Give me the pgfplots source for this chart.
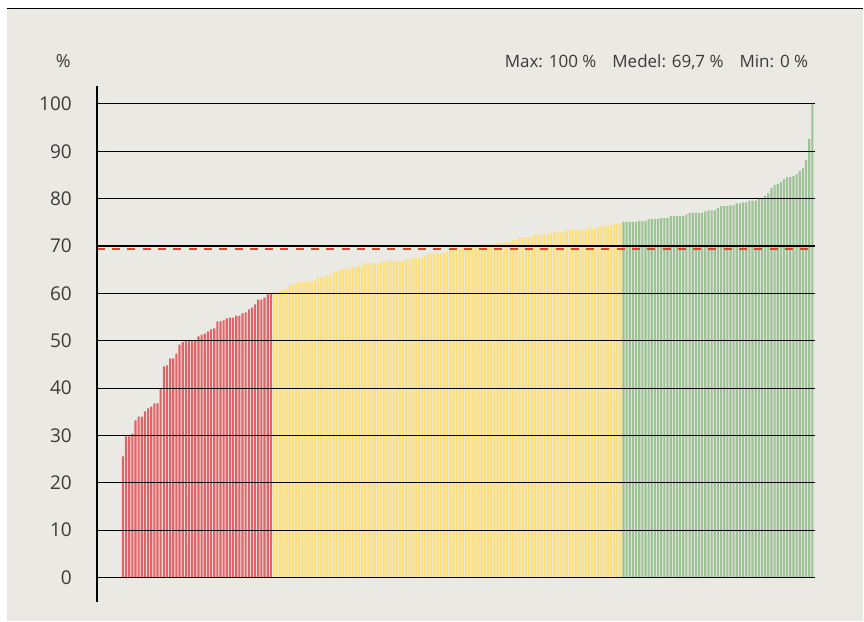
\documentclass[border=0pt]{standalone}
\usepackage{pgfplots}
\pgfplotsset{compat=1.18}
\usepackage{pgfplotstable}
\usepackage{fontspec}
\setmainfont{Open Sans}

% Colours
\definecolor{colorBg}{HTML}{EBE9E4}
\definecolor{colorRed}{HTML}{DF6367}
\definecolor{colorYellow}{HTML}{FDE07A}
\definecolor{colorGreen}{HTML}{9DC295}
\definecolor{colorMean}{HTML}{E8441F}
\definecolor{colorText}{HTML}{3A3A3A}

% Data: one value per unit, sorted ascending (first seven are 0 %)
\pgfplotstableread[header=false,row sep=\\]{
0\\ 0\\ 0\\ 0\\ 0\\ 0\\ 0\\
25.6\\ 29.8\\ 29.8\\ 30.4\\ 33.2\\ 34.0\\ 34.0\\ 35.1\\ 35.7\\ 36.1\\
36.8\\ 36.8\\ 40.0\\ 44.6\\ 44.8\\ 46.3\\ 46.3\\ 47.3\\ 49.2\\ 49.7\\
50.0\\ 50.0\\ 50.0\\ 50.0\\ 50.9\\ 51.3\\ 51.5\\ 52.0\\ 52.4\\ 52.6\\
54.1\\ 54.1\\ 54.3\\ 54.7\\ 54.9\\ 54.9\\ 55.3\\ 55.3\\ 55.8\\ 56.0\\
56.6\\ 57.0\\ 57.7\\ 58.7\\ 58.7\\ 59.1\\ 59.8\\ 59.9\\
}\redData

\pgfplotstableread[header=false,row sep=\\]{
60.0\\ 60.0\\ 60.6\\ 61.0\\ 61.0\\ 61.8\\ 61.8\\ 62.3\\ 62.3\\ 62.3\\
62.5\\ 62.5\\ 62.5\\ 62.9\\ 63.3\\ 63.5\\ 63.5\\ 63.9\\ 63.9\\ 64.6\\
64.6\\ 65.0\\ 65.0\\ 65.2\\ 65.2\\ 65.6\\ 65.6\\ 65.8\\ 65.8\\ 66.3\\
66.3\\ 66.3\\ 66.3\\ 66.3\\ 66.7\\ 66.7\\ 66.9\\ 66.9\\ 66.9\\ 66.9\\
66.9\\ 66.9\\ 67.3\\ 67.3\\ 67.5\\ 67.5\\ 67.5\\ 67.5\\ 68.0\\ 68.4\\
68.4\\ 68.4\\ 68.4\\ 68.4\\ 68.6\\ 68.8\\ 69.2\\ 69.2\\ 69.2\\ 69.4\\
69.6\\ 69.6\\ 69.9\\ 69.9\\ 69.9\\ 69.9\\ 69.9\\ 70.3\\ 70.3\\ 70.3\\
70.3\\ 70.7\\ 70.7\\ 70.7\\ 70.9\\ 70.9\\ 71.3\\ 71.3\\ 71.8\\ 71.8\\
71.8\\ 71.8\\ 72.0\\ 72.4\\ 72.4\\ 72.4\\ 72.4\\ 72.6\\ 72.6\\ 73.0\\
73.0\\ 73.0\\ 73.0\\ 73.4\\ 73.4\\ 73.4\\ 73.4\\ 73.4\\ 73.4\\ 73.4\\
73.7\\ 73.7\\ 73.7\\ 74.1\\ 74.3\\ 74.3\\ 74.3\\ 74.3\\ 74.7\\ 74.7\\
74.7\\
}\yellowData

\pgfplotstableread[header=false,row sep=\\]{
75.1\\ 75.1\\ 75.1\\ 75.1\\ 75.1\\ 75.3\\ 75.3\\ 75.3\\ 75.7\\ 75.7\\
75.7\\ 75.7\\ 75.9\\ 75.9\\ 75.9\\ 76.3\\ 76.3\\ 76.3\\ 76.3\\ 76.3\\
76.7\\ 77.0\\ 77.0\\ 77.0\\ 77.0\\ 77.0\\ 77.3\\ 77.5\\ 77.5\\ 77.5\\
78.0\\ 78.4\\ 78.4\\ 78.4\\ 78.6\\ 78.6\\ 79.0\\ 79.0\\ 79.2\\ 79.2\\
79.6\\ 79.6\\ 79.6\\ 80.1\\ 80.1\\ 80.6\\ 81.1\\ 82.3\\ 82.9\\ 83.1\\
83.5\\ 84.2\\ 84.6\\ 84.6\\ 84.8\\ 85.2\\ 85.8\\ 86.5\\ 88.2\\ 92.6\\
100\\
}\greenData

\begin{document}
\begin{tikzpicture}[x=1pt,y=1pt]

% background panel and top rule
\fill[white] (0,0) rectangle (864,622);
\fill[colorBg] (7,0) rectangle (864,613);
\draw[black, line width=1.4pt] (7,613.5) -- (864,613.5);

% header texts
\node[anchor=base east, inner sep=0pt, text=colorText,
      font=\fontsize{18}{22}\selectfont] at (71,554.5) {\%};
\node[anchor=base east, inner sep=0pt, text=colorText,
      font=\fontsize{17}{20}\selectfont] at (809,554.5)
  {Max: 100 \%\hspace{16pt}Medel: 69,7 \%\hspace{16pt}Min: 0 \%};

\begin{axis}[
    at={(97pt,20pt)}, anchor=south west,
    scale only axis,
    width=719pt, height=516pt,
    xmin=-1.25, xmax=226.95,
    ymin=-5.06, ymax=103.8,
    axis x line=none,
    axis y line=left,
    axis line style={-, line width=1.6pt, black},
    ytick={0,10,...,100},
    major tick length=0pt,
    ymajorgrids=true,
    grid style={black, line width=1.1pt},
    axis on top=true,
    /pgf/number format/assume math mode=true,
    yticklabel style={font=\fontsize{19}{22}\selectfont, text=colorText,
                      inner sep=0pt, anchor=east, xshift=-25pt},
]

\addplot[ybar, bar width=0.68, fill=colorRed, draw=none]
    table[x expr=\coordindex, y index=0] {\redData};
\addplot[ybar, bar width=0.68, fill=colorYellow, draw=none]
    table[x expr=\coordindex+55, y index=0] {\yellowData};
\addplot[ybar, bar width=0.68, fill=colorGreen, draw=none]
    table[x expr=\coordindex+166, y index=0] {\greenData};

% mean line (Medel 69,7 %, drawn where the reference shows it)
\addplot[draw=colorMean, line width=1.8pt, dash pattern=on 8pt off 7.3pt]
    coordinates {(-1.25,69.3) (226.95,69.3)};

\end{axis}
\end{tikzpicture}
\end{document}
